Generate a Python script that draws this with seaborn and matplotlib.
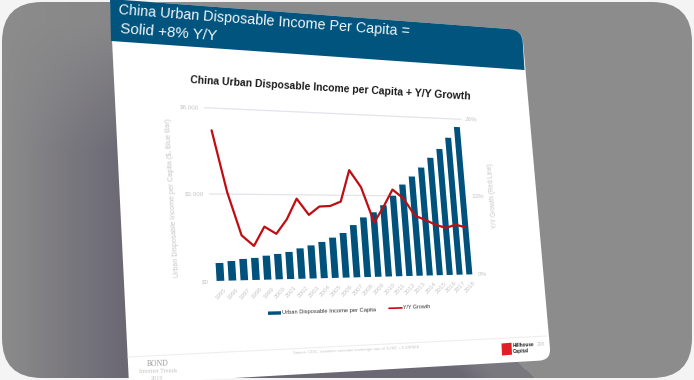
import numpy as np
import pandas as pd
import matplotlib
matplotlib.use("Agg")
import matplotlib.pyplot as plt
import seaborn as sns
from matplotlib.patches import FancyBboxPatch, PathPatch, Polygon
from matplotlib.path import Path
from matplotlib.transforms import Transform

years = [str(y) for y in range(1995, 2019)]
income = [655, 715, 780, 810, 880, 935, 1000, 1120, 1220, 1340, 1490, 1655,
          1940, 2220, 2410, 2670, 3030, 3450, 3760, 4107, 4490, 4838, 5285, 5717]
growth = [22.6, 13.3, 6.8, 5.2, 8.1, 7.0, 9.2, 12.4, 9.9, 11.2, 11.3, 12.0,
          17.0, 14.3, 8.7, 11.2, 14.0, 12.6, 9.8, 9.1, 8.3, 7.8, 8.3, 7.9]
income_ticks = [0, 3000, 6000]
income_labels = ["$0", "$3,000", "$6,000"]
growth_ticks = [0, 13, 26]
growth_labels = ["0%", "13%", "26%"]

BLUE = "#00527c"
RED = "#c00d12"
FAINT = "#c6c6c6"

W, H = 694, 380
# where the plot area's corners land in the picture (x, y from top-left)
PLOT_CORNERS = [(214.5, 281.7), (474.3, 275.0), (461.0, 119.3), (204.3, 107.7)]


def homography(dst):
    src = [(0, 0), (1, 0), (1, 1), (0, 1)]
    a, b = [], []
    for (u, v), (x, y) in zip(src, dst):
        a.append([u, v, 1, 0, 0, 0, -u * x, -v * x])
        a.append([0, 0, 0, u, v, 1, -u * y, -v * y])
        b += [x, y]
    return np.append(np.linalg.solve(np.array(a, float), np.array(b, float)), 1).reshape(3, 3)


class Warp(Transform):
    """Axes fractions -> display pixels through the slide's perspective."""
    input_dims = output_dims = 2
    has_inverse = False

    def __init__(self, m):
        super().__init__()
        self.m = m

    def transform_non_affine(self, values):
        pts = np.column_stack([values, np.ones(len(values))]) @ self.m.T
        out = pts[:, :2] / pts[:, 2:]
        out[:, 1] = H - out[:, 1]
        return out


def rounded(points, radii):
    verts, codes = [], []
    n = len(points)
    for i, (p, r) in enumerate(zip(points, radii)):
        p = np.array(p, float)
        if r == 0:
            verts.append(p)
            codes.append(Path.MOVETO if not verts[:-1] else Path.LINETO)
            continue
        a = np.array(points[i - 1], float) - p
        b = np.array(points[(i + 1) % n], float) - p
        verts += [p + a / np.linalg.norm(a) * r, p, p + b / np.linalg.norm(b) * r]
        codes += [Path.LINETO, Path.CURVE3, Path.CURVE3]
    verts.append(verts[0])
    codes.append(Path.CLOSEPOLY)
    return Path(verts, codes)


sns.set_theme(style="white")
plt.rcParams["font.family"] = ["Liberation Sans", "DejaVu Sans"]

fig = plt.figure(figsize=(W / 100, H / 100), dpi=100, facecolor="#f4f4f4")

# ----------------------- backdrop and slide ---------------------------------
bg = fig.add_axes([0, 0, 1, 1])
xx, yy = np.meshgrid(np.arange(W) + 0.5, np.arange(H) + 0.5)
shade = np.clip(xx / 125, 0, 1) * np.clip(yy / 150, 0.15, 1)
edge_x = 517 + (yy - 362) * 18 / 16
below = (yy > 340) & (xx >= 135)
shade = np.where(below, np.clip((edge_x - xx) / 70, 0.55, 1), shade)
shade = np.where((xx >= 135) & ((xx > edge_x) | (yy <= 340)), 0, shade)
grey, dark = np.array([0x8c, 0x8c, 0x8c]), np.array([0x6b, 0x68, 0x74])
img = (grey + (dark - grey) * shade[..., None]) / 255
im = bg.imshow(img, extent=(0, W, H, 0), aspect="auto", interpolation="bilinear")
frame = FancyBboxPatch((42, 42), W - 84, H - 84, boxstyle="round,pad=40,rounding_size=40",
                       transform=bg.transData, facecolor="none", edgecolor="none")
bg.add_patch(frame)
im.set_clip_path(frame)
bg.set_xlim(0, W)
bg.set_ylim(H, 0)
bg.axis("off")

slide = [(110, -1), (522, 30), (551, 360), (129, 384)]
bg.add_patch(PathPatch(rounded(slide, [0, 12, 12, 0]), facecolor="white", edgecolor="none"))
banner = [(110, -1), (522, 30), (524.5, 70), (111, 41)]
bg.add_patch(PathPatch(rounded(banner, [0, 12, 0, 0]), facecolor="#00547d", edgecolor="none"))
bg.plot([128, 547], [357, 336], color="#eeeeee", lw=0.8)

bg.text(119, 10, "China Urban Disposable Income Per Capita =", color="#f2f5f8", fontsize=10.4,
        rotation=-4.3, rotation_mode="anchor", ha="left", va="center")
bg.text(120, 29, "Solid +8% Y/Y", color="#f2f5f8", fontsize=10.9,
        rotation=-4.3, rotation_mode="anchor", ha="left", va="center")
bg.text(330, 88, "China Urban Disposable Income per Capita + Y/Y Growth", color="#1c1c1c",
        fontsize=7.45, fontweight="bold", rotation=-3.4, rotation_mode="anchor", ha="center", va="center")

# ----------------------- chart ----------------------------------------------
df = pd.DataFrame({"year": years, "income": income, "growth": growth})
warp = Warp(homography(PLOT_CORNERS))

ax = fig.add_axes([0, 0, 1, 1], facecolor="none")
sns.barplot(data=df, x="year", y="income", color=BLUE, saturation=1, width=0.76, ax=ax)
ax2 = ax.twinx()
sns.lineplot(data=df, x="year", y="growth", color=RED, lw=1.6, sort=False, errorbar=None, ax=ax2)
ax.set_xlim(-0.5, 23.5)
ax.set_ylim(0, 6000)
ax2.set_ylim(0, 26)
ax.axis("off")
ax2.axis("off")

warped = ax.transScale + ax.transLimits + warp
warped2 = ax2.transScale + ax2.transLimits + warp
for bar in ax.patches:
    bar.set_transform(warped)
    bar.set_clip_on(False)
for line in ax2.get_lines():
    line.set_transform(warped2)
    line.set_clip_on(False)

for v in income_ticks[1:]:
    ax.plot([-0.5, 23.5], [v, v], color="#e3e5ec", lw=0.9, zorder=0, transform=warped, clip_on=False)

label_kw = dict(color=FAINT, fontsize=4.5, va="center", rotation_mode="anchor", clip_on=False)
for v, s, r in zip(income_ticks, income_labels, [1.5, -0.5, -2.5]):
    ax.text(-0.95, v, s, ha="right", rotation=r, transform=warped, **label_kw)
for v, s, r in zip(growth_ticks, growth_labels, [1.5, -0.5, -2.5]):
    ax2.text(23.9, v, s, ha="left", rotation=r, transform=warped2, **label_kw)
for i, s in enumerate(years):
    ax.text(i, -430, s, ha="center", rotation=48, transform=warped, **label_kw)

# ----------------------- axis titles, legend, footer ------------------------
bg.text(172.5, 198, "Urban Disposable Income per Capita ($, Blue Bar)", color=FAINT, fontsize=5.1,
        rotation=93.3, rotation_mode="anchor", ha="center", va="center")
bg.text(492.5, 196, "Y/Y Growth (Red Line)", color=FAINT, fontsize=4.7,
        rotation=94.6, rotation_mode="anchor", ha="center", va="center")

bg.add_patch(Polygon([(268, 311.5), (281, 311.2), (281, 314.6), (268, 314.9)], facecolor=BLUE, edgecolor="none"))
bg.text(282, 312.5, "Urban Disposable Income per Capita", color="#333333", fontsize=4.15,
        rotation=1.6, rotation_mode="anchor", ha="left", va="center")
bg.plot([389, 402], [308.3, 307.9], color=RED, lw=1.2)
bg.text(402.5, 307.6, "Y/Y Growth", color="#333333", fontsize=3.9,
        rotation=1.8, rotation_mode="anchor", ha="left", va="center")

bg.text(356, 350, "Source: CEIC, assumes constant exchange rate of 1USD = 6.89RMB", color=FAINT, fontsize=3,
        rotation=2.6, rotation_mode="anchor", ha="center", va="center")
bg.text(158, 364, "BOND", color="#9a9a9a", fontsize=5.5, family="Liberation Serif", ha="center", va="center", rotation=1)
bg.text(158, 371.5, "Internet Trends", color="#c4c4c4", fontsize=4.5, family="Liberation Serif",
        ha="center", va="center", rotation=1)
bg.text(157, 378, "2019", color="#c4c4c4", fontsize=4.5, family="Liberation Serif",
        ha="center", va="center", rotation=1)
bg.add_patch(Polygon([(501.5, 343.5), (511.5, 342.7), (512, 354.7), (502, 355.5)], facecolor="#e01f26", edgecolor="none"))
bg.text(513, 346, "Hillhouse", color="#222222", fontsize=3.4, fontweight="bold", ha="left", va="center",
        rotation=2.5, rotation_mode="anchor")
bg.text(513, 352, "Capital", color="#222222", fontsize=3.4, fontweight="bold", ha="left", va="center",
        rotation=2.5, rotation_mode="anchor")
bg.text(537, 345, "296", color=FAINT, fontsize=3.6, ha="left", va="center", rotation=2.5, rotation_mode="anchor")

fig.savefig("out.png", dpi=100, facecolor=fig.get_facecolor())
